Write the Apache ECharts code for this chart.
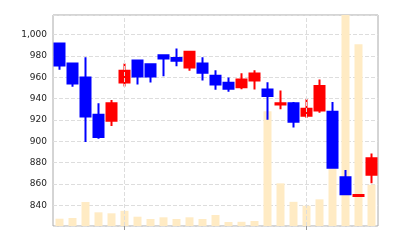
<!DOCTYPE html>
<html><head><meta charset="utf-8">
<script src="https://cdn.jsdelivr.net/npm/echarts@6/dist/echarts.min.js"></script>
<style>html,body{margin:0;padding:0;background:#fff}#c{width:400px;height:240px}</style>
</head><body><div id="c"></div>
<script>
const categories = ['D1','D2','D3','D4','D5','D6','D7','D8','D9','D10','D11','D12','D13','D14','D15','D16','D17','D18','D19','D20','D21','D22','D23','D24','D25'];
const opens  = [991.6, 972.9, 959.8, 924.8, 919.2, 955.1, 975.7, 972.2, 980.7, 978.0, 969.1, 972.9, 961.3, 954.8, 950.7, 957.0, 948.5, 934.5, 935.7, 923.9, 928.9, 927.6, 866.2, 848.7, 868.7];
const closes = [971.0, 954.1, 923.3, 903.9, 935.7, 966.0, 960.7, 960.7, 977.5, 975.5, 983.8, 964.1, 953.2, 949.2, 957.9, 963.5, 942.3, 935.7, 918.3, 930.4, 951.7, 875.2, 850.3, 849.7, 884.0];
const lows   = [967.0, 951.0, 899.3, 902.4, 914.2, 951.3, 953.2, 955.1, 961.0, 970.2, 966.0, 957.0, 948.2, 946.3, 948.8, 948.5, 920.1, 930.1, 913.0, 921.7, 926.7, 875.0, 849.3, 848.1, 860.6];
const highs  = [991.6, 973.0, 978.8, 935.7, 938.6, 972.9, 976.0, 973.2, 980.7, 987.0, 984.0, 978.8, 966.6, 959.8, 963.8, 966.6, 955.4, 947.6, 936.7, 939.5, 957.9, 936.7, 873.0, 850.6, 888.6];
const volumes = [73, 80, 240, 137, 127, 152, 93, 70, 87, 70, 87, 70, 110, 40, 42, 50, 1150, 427, 242, 203, 267, 620, 2300, 1820, 413];
const tickIndices = [5, 19];

const candleData = categories.map((c, i) => [opens[i], closes[i], lows[i], highs[i]]);
const chart = echarts.init(document.getElementById('c'), null, {renderer: 'canvas'});
chart.setOption({
  animation: false,
  grid: {left: 53, right: 22, top: 15, bottom: 14, show: true, borderColor: '#aaa', borderWidth: 1, backgroundColor: 'transparent'},
  xAxis: {
    type: 'category', data: categories, boundaryGap: true,
    axisLine: {show: false},
    axisTick: {show: true, alignWithLabel: true, length: 4, lineStyle: {color: '#999'},
      interval: (i) => tickIndices.includes(i)},
    axisLabel: {show: false},
    splitLine: {show: false}
  },
  yAxis: [{
    type: 'value', min: 820.6, max: 1018.3, splitNumber: 10,
    axisLine: {show: false}, axisTick: {show: false},
    axisLabel: {margin: 6, color: '#222', fontFamily: 'DejaVu Sans', fontSize: 9,
      formatter: (v) => (Math.abs(v % 20) < 1e-6 ? v.toLocaleString('en-US') : '')},
    splitLine: {show: true, lineStyle: {color: '#ddd', type: 'dashed', width: 1}}
  }, {
    type: 'value', min: 0, max: 2113, show: false, splitLine: {show: false}
  }],
  series: [{
    type: 'bar', yAxisIndex: 1, data: volumes, barWidth: 8,
    itemStyle: {color: '#ffebc4'}, silent: true
  }, {
    type: 'candlestick', data: candleData, barWidth: 10,
    itemStyle: {color: '#ff0000', color0: '#0000ff', borderColor: '#ff0000', borderColor0: '#0000ff', borderWidth: 2},
    markLine: {
      silent: true, symbol: 'none', label: {show: false},
      lineStyle: {color: '#ddd', type: 'dashed', width: 1},
      data: tickIndices.map(i => ({xAxis: categories[i]}))
    }
  }]
});
</script></body></html>
